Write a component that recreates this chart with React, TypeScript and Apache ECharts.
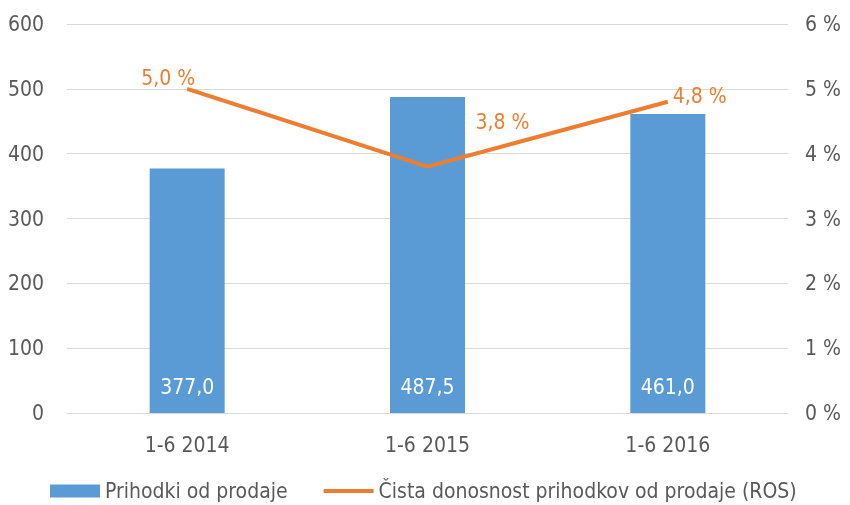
import React, { useEffect, useRef } from "react";
import * as echarts from "echarts";

const categories = ["1-6 2014", "1-6 2015", "1-6 2016"];
const revenue = [377.0, 487.5, 461.0];
const ros = [5.0, 3.8, 4.8];
const leftTicks = { min: 0, max: 600, interval: 100 };
const rightTicks = { min: 0, max: 6, interval: 1 };
const seriesNames = ["Prihodki od prodaje", "Čista donosnost prihodkov od prodaje (ROS)"];
const rosLabelOffsets = [[-19, 4], [75, -30], [32, 9]];

const FONT = "'DejaVu Sans Condensed', 'DejaVu Sans', sans-serif";

export default function App() {
  const ref = useRef<HTMLDivElement>(null);
  useEffect(() => {
    if (!ref.current) return;
    const chart = echarts.init(ref.current, null, { renderer: "svg" });
    const fmt = (v: number) => v.toFixed(1).replace(".", ",");
    chart.setOption({
      animation: false,
      textStyle: { fontFamily: FONT },
      grid: { left: 67, right: 62, top: 24, bottom: 92, containLabel: false },
      legend: {
        top: 479,
        left: 50,
        padding: 0,
        itemWidth: 50,
        itemHeight: 13,
        itemGap: 36,
        textStyle: { fontSize: 21, lineHeight: 24, color: "#595959", fontFamily: FONT },
        data: [
          { name: seriesNames[0], icon: "rect" },
          { name: seriesNames[1], icon: "path://M0 0H50V4H0Z" },
        ],
      },
      xAxis: {
        type: "category",
        data: categories,
        axisLine: { lineStyle: { color: "#d9d9d9" } },
        axisTick: { show: false },
        axisLabel: { color: "#595959", fontSize: 21, margin: 21 },
      },
      yAxis: [
        {
          type: "value",
          ...leftTicks,
          axisLine: { show: false },
          axisTick: { show: false },
          splitLine: { lineStyle: { color: "#d9d9d9" } },
          axisLabel: { color: "#595959", fontSize: 21, margin: 23 },
        },
        {
          type: "value",
          ...rightTicks,
          position: "right",
          axisLine: { show: false },
          axisTick: { show: false },
          splitLine: { show: false },
          axisLabel: { color: "#595959", fontSize: 21, margin: 17, formatter: (v: number) => `${v} %` },
        },
      ],
      series: [
        {
          name: seriesNames[0],
          type: "bar",
          data: revenue,
          barWidth: 75,
          itemStyle: { color: "#5B9BD5" },
          label: {
            show: true,
            position: "insideBottom",
            distance: 16,
            color: "#ffffff",
            fontSize: 21,
            formatter: (p: any) => fmt(p.value),
          },
        },
        {
          name: seriesNames[1],
          type: "line",
          yAxisIndex: 1,
          data: ros.map((v, i) => ({
            value: v,
            label: { offset: rosLabelOffsets[i] },
          })),
          symbol: "circle",
          symbolSize: 0,
          showSymbol: true,
          lineStyle: { color: "#ED7D31", width: 4 },
          itemStyle: { color: "#ED7D31" },
          label: {
            show: true,
            position: "top",
            distance: 4,
            color: "#ED7D31",
            fontSize: 21,
            formatter: (p: any) => `${fmt(p.value)} %`,
          },
        },
      ],
    });
    return () => chart.dispose();
  }, []);
  return (
    <div
      ref={ref}
      style={{ position: "fixed", left: 0, top: 0, width: 850, height: 505 }}
    />
  );
}
